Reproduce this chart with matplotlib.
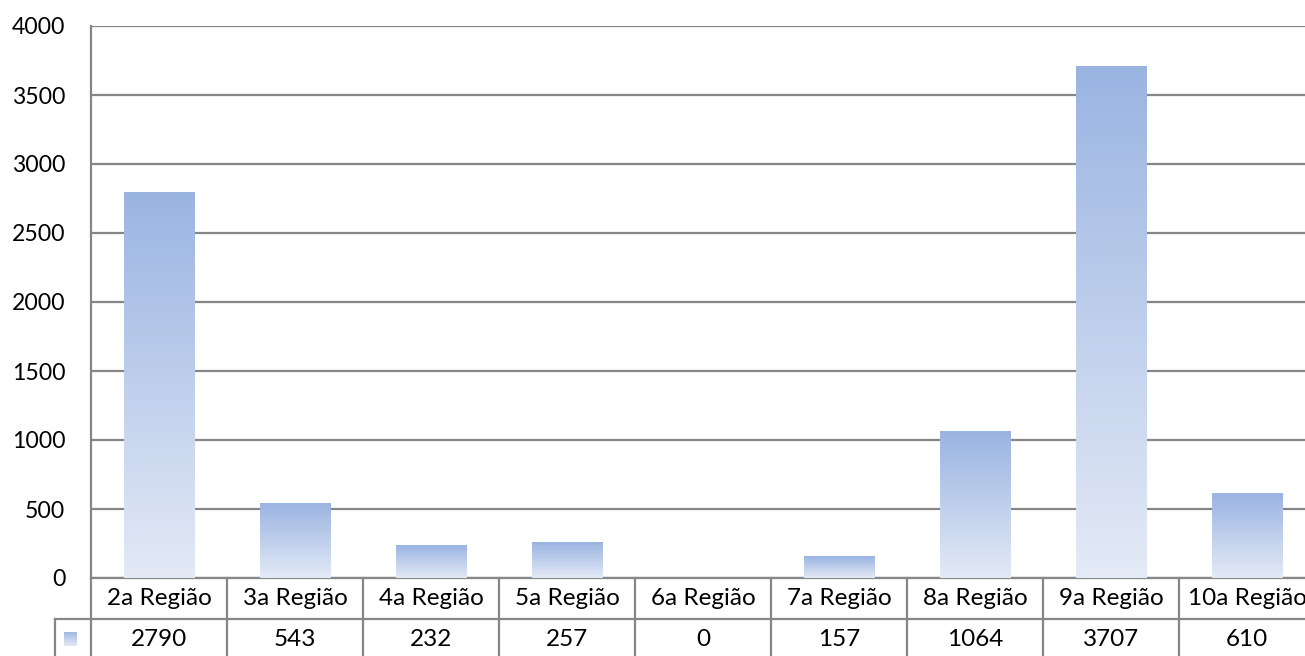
import numpy as np
import matplotlib
matplotlib.use('Agg')
from matplotlib import pyplot as plt
from matplotlib.colors import LinearSegmentedColormap
from matplotlib.transforms import blended_transform_factory

categories = ['2a Região', '3a Região', '4a Região', '5a Região', '6a Região',
              '7a Região', '8a Região', '9a Região', '10a Região']
values = [2790, 543, 232, 257, 0, 157, 1064, 3707, 610]
yticks = [0, 500, 1000, 1500, 2000, 2500, 3000, 3500, 4000]

plt.rcParams['font.family'] = ['Lato', 'DejaVu Sans']
W, H = 1305, 656
fig = plt.figure(figsize=(W / 100, H / 100), dpi=100)

# axes spans px 91..1315 horizontally (right side is cut off), 26..578 vertically
ax = fig.add_axes([91 / W, (H - 578) / H, (1315 - 91) / W, (578 - 26) / H])
n = len(categories)

grad = LinearSegmentedColormap.from_list('bar', ['#e4eaf6', '#9ab4e2'])
g = np.linspace(0, 1, 256).reshape(-1, 1)
bw = 0.515
for i, v in enumerate(values):
    if v <= 0:
        continue
    ax.imshow(g, cmap=grad, origin='lower', aspect='auto',
              extent=[i + 0.5 - bw / 2, i + 0.5 + bw / 2, 0, v], zorder=3)
ax.set_xlim(0, n)
ax.set_ylim(0, 4000)

gridc = '#868686'
ax.set_yticks(yticks)
ax.set_yticklabels([str(t) for t in yticks], fontsize=16.6)
ax.tick_params(axis='y', length=0, pad=18.5)
ax.set_xticks([])
ax.yaxis.grid(True, color=gridc, lw=1.6, zorder=1)
ax.set_axisbelow(True)
for s in ['top', 'right', 'bottom']:
    ax.spines[s].set_visible(False)
ax.spines['left'].set_color(gridc)
ax.spines['left'].set_linewidth(1.6)

# data table below the axes
tr = blended_transform_factory(ax.transData, fig.transFigure)
def fy(py):
    return (H - py) / H

lk = dict(color=gridc, lw=1.6, transform=tr, clip_on=False)
y0, y1, y2 = fy(578), fy(619), fy(660)
ax.plot([0, n], [y0, y0], **lk)
ax.plot([-36 / 136, n], [y1, y1], **lk)
ax.plot([-36 / 136, -36 / 136], [y1, y2], **lk)
for i in range(n + 1):
    ax.plot([i, i], [y0, y2], **lk)
for i, (c, v) in enumerate(zip(categories, values)):
    ax.text(i + 0.5, (y0 + y1) / 2, c, ha='center', va='center', fontsize=17.5,
            transform=tr)
    ax.text(i + 0.5, fy(639), str(v), ha='center', va='center',
            fontsize=17.5, transform=tr)

# legend key in the table
kax = fig.add_axes([64 / W, fy(646), 13 / W, 14 / H])
kax.imshow(g, cmap=grad, origin='lower', aspect='auto')
kax.axis('off')

fig.savefig('out.png', dpi=100)
